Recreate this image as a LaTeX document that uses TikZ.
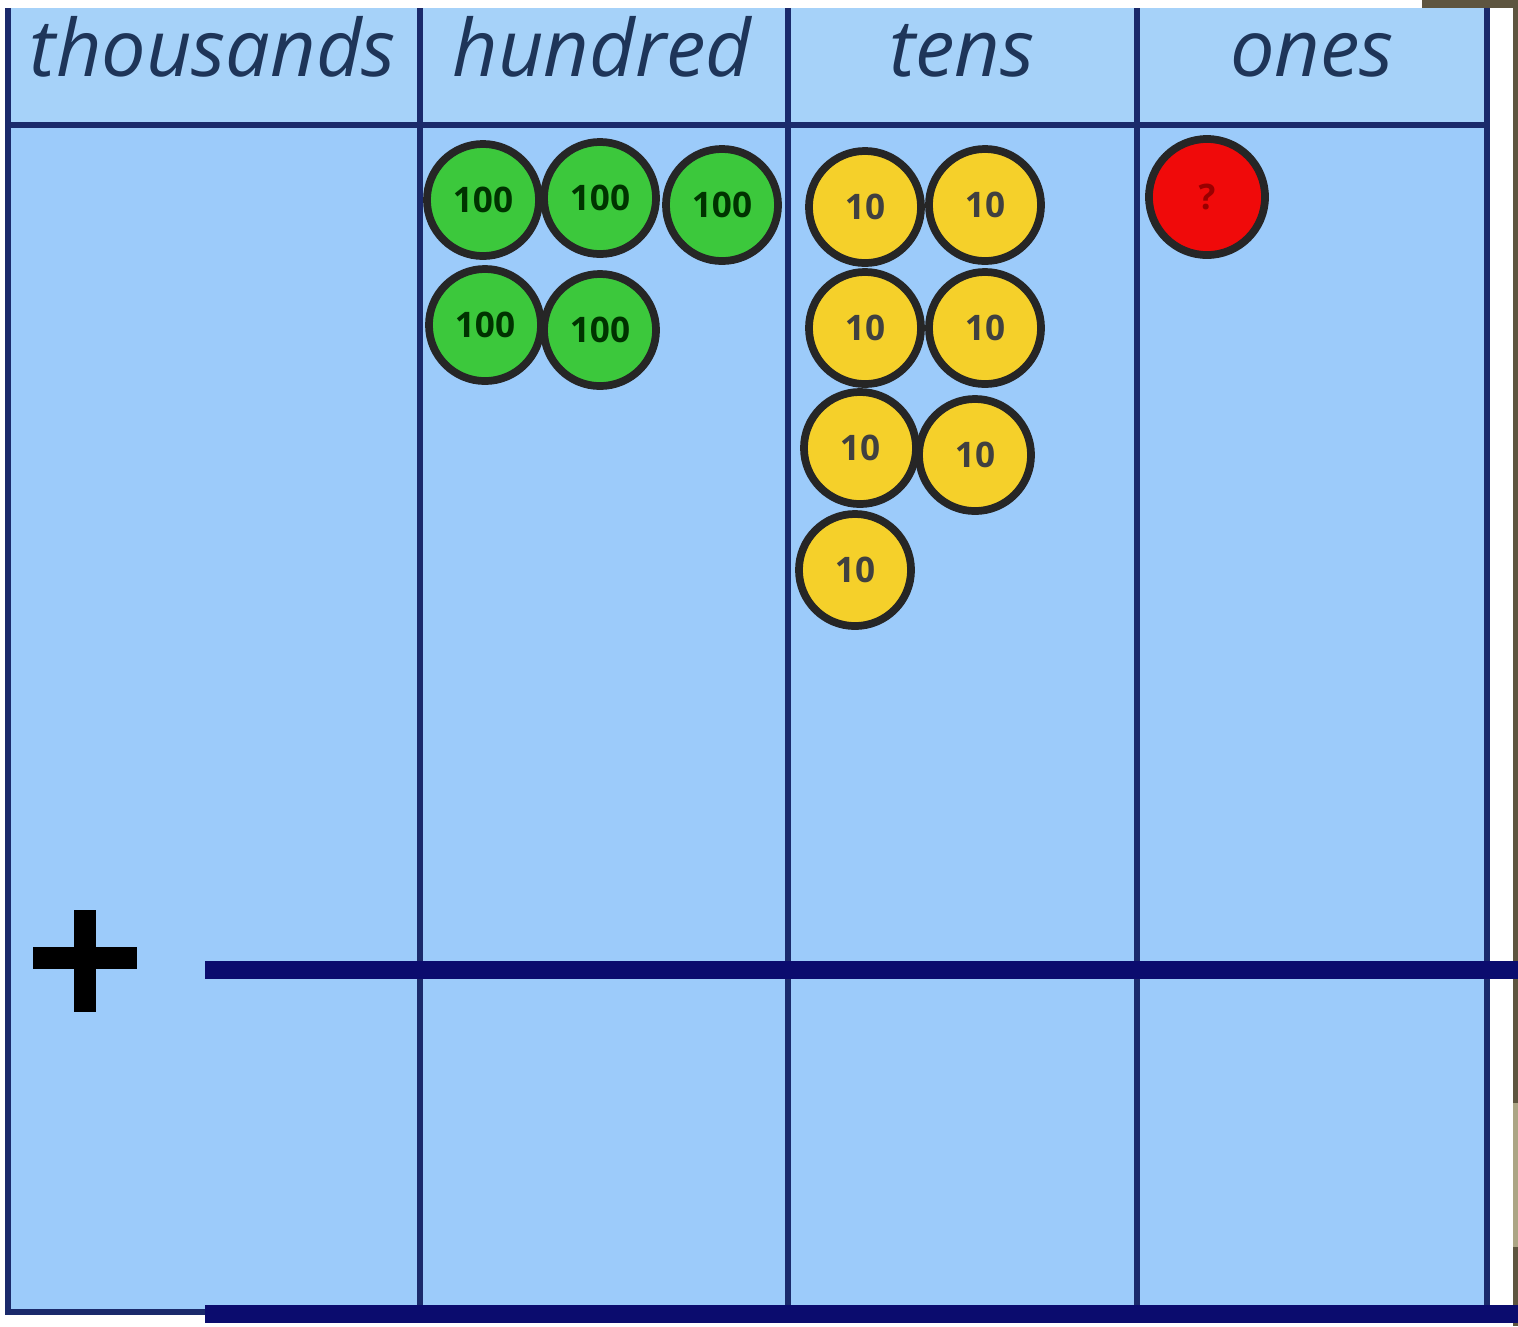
\documentclass[tikz,border=0pt]{standalone}
\usepackage{fontspec}
\setmainfont{Open Sans}
\definecolor{cellblue}{HTML}{9CCBFA}
\definecolor{headblue}{HTML}{A6D2F9}
\definecolor{gridline}{HTML}{1B2A6B}
\definecolor{thickline}{HTML}{0B0C6E}
\definecolor{headtext}{HTML}{1E3559}
\definecolor{coingreen}{HTML}{3CC83C}
\definecolor{coinyellow}{HTML}{F5D02A}
\definecolor{coinred}{HTML}{F00A0A}
\definecolor{olive}{HTML}{5E5540}
\definecolor{beige}{HTML}{ACA585}
\tikzset{
  head/.style={font=\itshape\fontsize{22.5}{22.5}\selectfont, text=headtext, anchor=base},
  coin/.style={circle, draw=black!85, line width=2.2pt, minimum size=1.12cm, inner sep=0pt, font=\fontsize{10}{10}\selectfont\bfseries},
  hcoin/.style={coin, fill=coingreen, text=black!80!green},
  tcoin/.style={coin, fill=coinyellow, text=black!75},
  ocoin/.style={coin, fill=coinred, text=red!60!black, minimum size=1.16cm},
  grid/.style={draw=gridline, line width=1.6pt},
  thick/.style={draw=thickline, line width=5pt}
}
\begin{document}
\begin{tikzpicture}[x=0.01cm,y=-0.01cm]
\useasboundingbox (0,0) rectangle (1518,1326);
\fill[white] (0,0) rectangle (1518,1326);
% frame corner bits
\fill[olive] (1422,0) rectangle (1518,8);
\fill[olive] (1513,0) rectangle (1518,1326);
\fill[beige] (1513,1103) rectangle (1518,1247);
% cells
\fill[cellblue] (8,8) rectangle (1487,1312);
\fill[headblue] (8,8) rectangle (1487,125);
% grid lines
\draw[grid] (8,8) -- (8,1312) -- (205,1312);
\draw[grid] (8,125) -- (1487,125);
\draw[grid] (420,8) -- (420,1312);
\draw[grid] (788,8) -- (788,1312);
\draw[grid] (1137,8) -- (1137,1312);
\draw[grid] (1487,8) -- (1487,1312);
% thick lines
\draw[thick] (205,970) -- (1518,970);
\draw[thick] (205,1314) -- (1518,1314);
% plus
\draw[black, line width=6pt] (85,910) -- (85,1012);
\draw[black, line width=6pt] (33,958) -- (137,958);
% headers
\node[head] (th) at (213,76) {thousands};
\node[head] (hu) at (602,76) {hundred};
\node[head] (te) at (962,76) {tens};
\node[head] (on) at (1312,76) {ones};
% hundreds
\node[hcoin] (h1) at (483,200) {100};
\node[hcoin] (h2) at (600,198) {100};
\node[hcoin] (h3) at (722,205) {100};
\node[hcoin] (h4) at (485,325) {100};
\node[hcoin] (h5) at (600,330) {100};
% tens
\node[tcoin] (t1) at (865,207) {10};
\node[tcoin] (t2) at (985,205) {10};
\node[tcoin] (t3) at (865,328) {10};
\node[tcoin] (t4) at (985,328) {10};
\node[tcoin] (t5) at (860,448) {10};
\node[tcoin] (t6) at (975,455) {10};
\node[tcoin] (t7) at (855,570) {10};
% ones
\node[ocoin] (o1) at (1207,197) {?};
\end{tikzpicture}
\end{document}
